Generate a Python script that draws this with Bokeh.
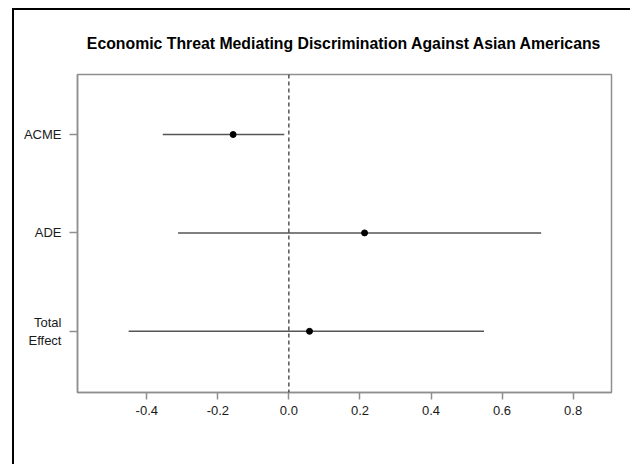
from bokeh.plotting import figure
from bokeh.models import Range1d, FixedTicker, Span
from bokeh.embed import file_html
from bokeh.resources import INLINE

# Data
effects = ["ACME", "ADE", "Total\nEffect"]
ypos = [3, 2, 1]
estimate = [-0.157, 0.213, 0.058]
lower = [-0.355, -0.312, -0.451]
upper = [-0.013, 0.710, 0.549]
xticks = [-0.4, -0.2, 0.0, 0.2, 0.4, 0.6, 0.8]
xlabels = ["-0.4", "-0.2", "0.0", "0.2", "0.4", "0.6", "0.8"]

FONT = "Liberation Sans"
BOX = "#8f8f8f"

p = figure(width=616, height=454, output_backend="svg", toolbar_location=None,
           x_range=Range1d(-0.595, 0.908), y_range=Range1d(0.378, 3.61),
           min_border_left=63, min_border_right=21, min_border_top=63,
           min_border_bottom=74,
           title="Economic Threat Mediating Discrimination Against Asian Americans")

p.styles = {"margin-left": "12px", "margin-top": "8px",
            "border-left": "2px solid black", "border-top": "2px solid black",
            "border-right": "none", "border-bottom": "none",
            "box-sizing": "content-box", "overflow": "hidden"}

p.title.align = "center"
p.title.text_font = FONT
p.title.text_font_size = "15.8px"
p.title.text_font_style = "bold"
p.title.text_color = "black"
p.title.standoff = 45

p.grid.visible = False
p.outline_line_color = BOX
p.outline_line_width = 1.5
p.background_fill_color = "white"
p.border_fill_color = "white"

xa = p.xaxis[0]
xa.ticker = FixedTicker(ticks=xticks)
xa.major_label_overrides = {t: l for t, l in zip(xticks, xlabels)}
ya = p.yaxis[0]
ya.ticker = FixedTicker(ticks=ypos)
ya.major_label_overrides = {y: e for y, e in zip(ypos, effects)}

for ax in (xa, ya):
    ax.axis_line_color = BOX
    ax.axis_line_width = 1.5
    ax.major_tick_line_color = BOX
    ax.major_tick_line_width = 1.5
    ax.major_tick_in = 0
    ax.minor_tick_line_color = None
    ax.major_label_text_font = FONT
    ax.major_label_text_font_size = "13px"
    ax.major_label_text_color = "#1a1a1a"

xa.major_tick_out = 7
xa.major_label_standoff = 6
ya.major_tick_out = 8
ya.major_label_standoff = 8
ya.major_label_orientation = "horizontal"

p.add_layout(Span(location=0, dimension="height", line_color="black",
                  line_width=1, line_dash="4 3"))

p.segment(x0=lower, y0=ypos, x1=upper, y1=ypos, line_color="#555555", line_width=1.5)
p.scatter(estimate, ypos, size=6, color="black")

open("out.html", "w").write(file_html(p, INLINE))
